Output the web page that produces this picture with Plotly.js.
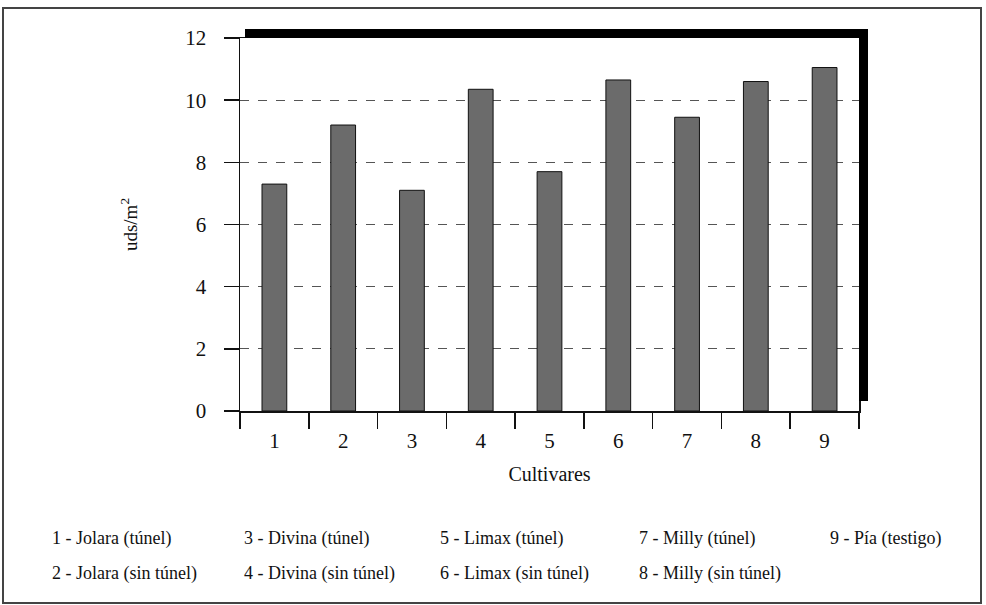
<!DOCTYPE html>
<html>
<head>
<meta charset="utf-8">
<script src="https://cdn.plot.ly/plotly-3.0.1.min.js"></script>
<style>html,body{margin:0;padding:0;background:#fff;}#chart{width:986px;height:605px;}</style>
</head>
<body>
<div id="chart"></div>
<script>
// ---- data ----
const categories = ['1', '2', '3', '4', '5', '6', '7', '8', '9'];
const values = [7.3, 9.2, 7.1, 10.35, 7.7, 10.65, 9.45, 10.6, 11.05];
const yTicks = [0, 2, 4, 6, 8, 10, 12];
const legendLabels = [
  '1 - Jolara (túnel)', '2 - Jolara (sin túnel)',
  '3 - Divina (túnel)', '4 - Divina (sin túnel)',
  '5 - Limax (túnel)', '6 - Limax (sin túnel)',
  '7 - Milly (túnel)', '8 - Milly (sin túnel)',
  '9 - Pía (testigo)'
];
const xTitle = 'Cultivares';
const yTitle = 'uds/m<sup>2</sup>';

// ---- layout helpers (pixel -> paper) ----
const W = 986, H = 605;
const L = 240, R = 859, T = 38, B = 411;
const px2x = p => (p - L) / (R - L);
const px2y = p => (B - p) / (B - T);
const FONT = 'Liberation Serif, Times New Roman, serif';

const colX = [50, 242, 438, 637, 828];
const rowY = [538, 573];
const annotations = legendLabels.map((t, i) => ({
  text: t, xref: 'paper', yref: 'paper',
  x: px2x(colX[Math.floor(i / 2)]), y: px2y(rowY[i % 2]),
  xanchor: 'left', yanchor: 'middle', showarrow: false,
  font: {family: FONT, size: 18, color: '#111'}
}));

const shapes = [
  // outer figure frame
  {type: 'rect', xref: 'paper', yref: 'paper', x0: px2x(3), x1: px2x(981), y0: px2y(603), y1: px2y(8),
   line: {color: '#444', width: 2}, fillcolor: 'rgba(0,0,0,0)', layer: 'below'},
  // thick top border
  {type: 'rect', xref: 'paper', yref: 'paper', x0: px2x(245), x1: px2x(868), y0: px2y(38), y1: px2y(29),
   line: {width: 0}, fillcolor: '#000', layer: 'above'},
  // thick right border
  {type: 'rect', xref: 'paper', yref: 'paper', x0: px2x(859), x1: px2x(868), y0: px2y(401), y1: px2y(29),
   line: {width: 0}, fillcolor: '#000', layer: 'above'}
];

const trace = {
  type: 'bar', x: categories, y: values, width: 0.36,
  marker: {color: '#6b6b6b', line: {color: '#111', width: 1}},
  hoverinfo: 'none'
};

const layout = {
  width: W, height: H,
  margin: {l: L, r: W - R, t: T, b: H - B, pad: 0},
  paper_bgcolor: '#fff', plot_bgcolor: '#fff',
  showlegend: false,
  font: {family: FONT, color: '#111'},
  xaxis: {
    type: 'category', range: [-0.5, 8.5], tickson: 'boundaries',
    ticks: 'outside', ticklen: 16, tickwidth: 1.5, tickcolor: '#111',
    showline: true, linecolor: '#111', linewidth: 1.5, mirror: true,
    showgrid: false, zeroline: false,
    tickfont: {family: FONT, size: 21, color: '#111'},
    ticklabelstandoff: 10,
    title: {text: xTitle, font: {family: FONT, size: 20, color: '#111'}, standoff: 15},
    automargin: false
  },
  yaxis: {
    range: [0, 12], tickvals: yTicks, ticktext: yTicks.map(String),
    ticks: 'outside', ticklen: 15, tickwidth: 1.5, tickcolor: '#111',
    showline: true, linecolor: '#111', linewidth: 1.5, mirror: true,
    showgrid: true, gridcolor: '#555', gridwidth: 1, griddash: 'dash',
    zeroline: false,
    tickfont: {family: FONT, size: 21, color: '#111'},
    ticklabelstandoff: 13,
    title: {text: yTitle, font: {family: FONT, size: 19, color: '#111'}, standoff: 42},
    automargin: false
  },
  shapes: shapes,
  annotations: annotations
};

Plotly.newPlot('chart', [trace], layout, {staticPlot: true, displayModeBar: false});
</script>
</body>
</html>
